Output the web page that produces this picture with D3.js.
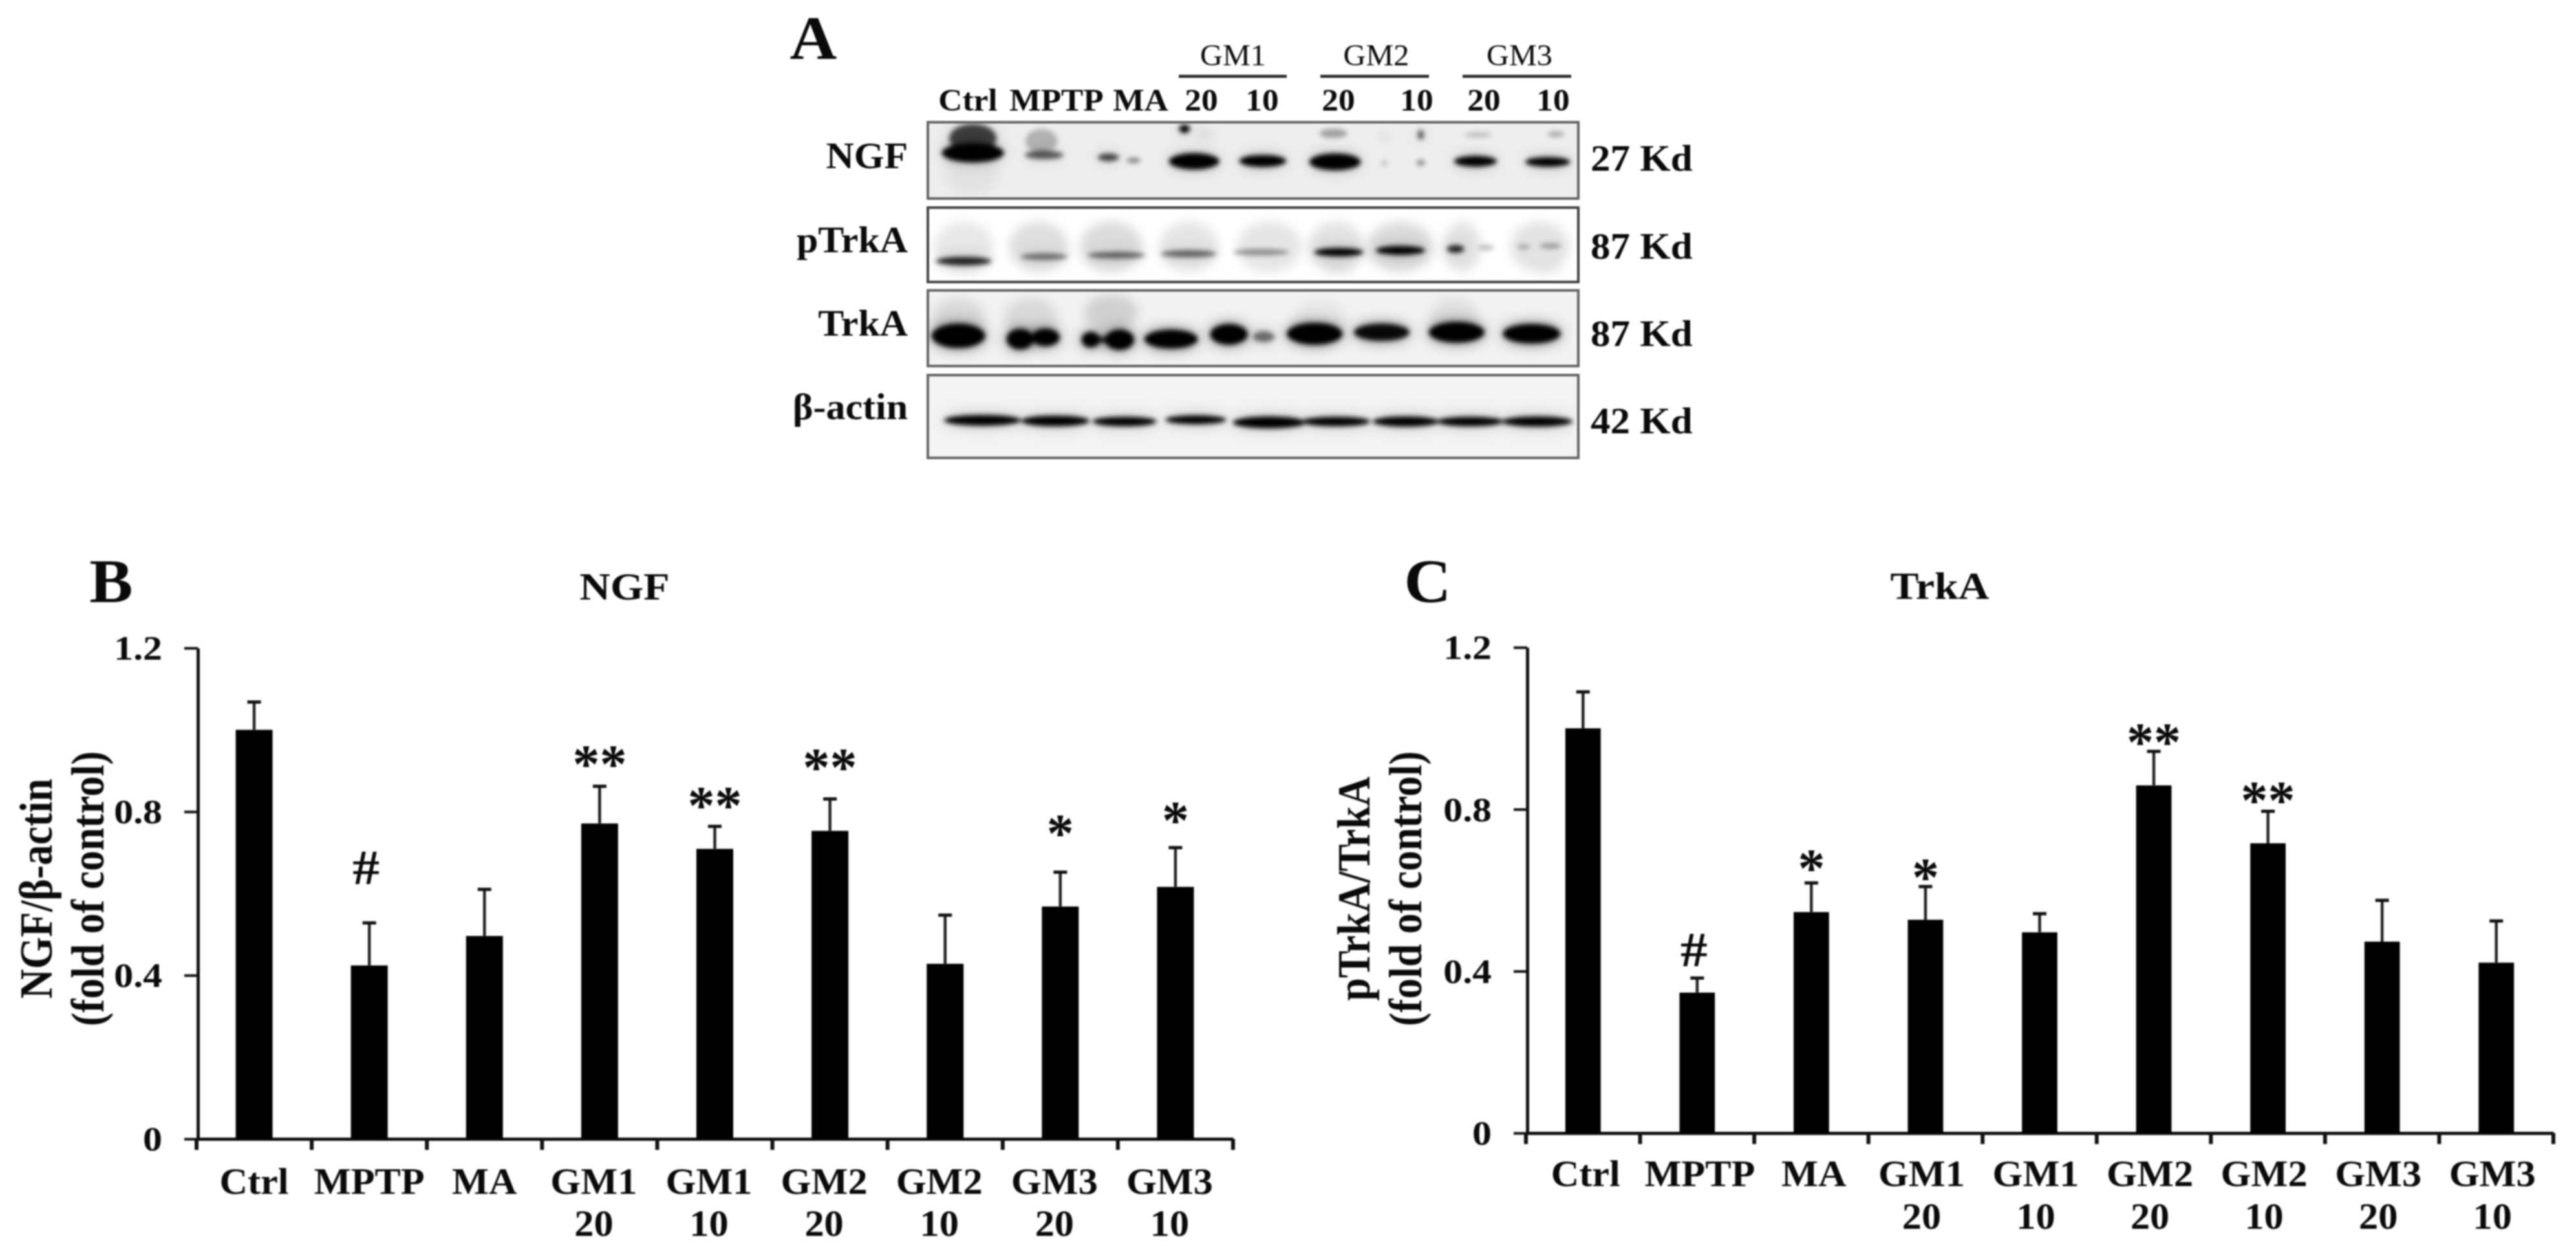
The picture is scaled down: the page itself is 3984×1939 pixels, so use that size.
<!DOCTYPE html>
<html><head><meta charset="utf-8">
<script src="https://cdn.jsdelivr.net/npm/d3@7"></script>
<style>
html,body{margin:0;padding:0;background:#fff;overflow:hidden}
svg{display:block;filter:blur(1.1px)}
text{font-family:"Liberation Serif",serif;font-weight:700;fill:#0a0a0a}
</style></head><body>
<script>
const categories = ["Ctrl","MPTP","MA","GM1|20","GM1|10","GM2|20","GM2|10","GM3|20","GM3|10"];
const yTicks = [0,0.4,0.8,1.2];
const ngfValues = [1.0,0.424,0.496,0.771,0.709,0.753,0.428,0.568,0.616];
const ngfErrTop = [1.068,0.528,0.610,0.862,0.764,0.831,0.547,0.652,0.712];
const ngfMarks = ["","#","","**","**","**","","*","*"];
const ngfMarkAt = [0,0.662,0,0.934,0.833,0.926,0,0.765,0.797];
const trkValues = [1.0,0.347,0.546,0.527,0.496,0.859,0.716,0.473,0.421];
const trkErrTop = [1.09,0.383,0.618,0.609,0.542,0.943,0.795,0.575,0.524];
const trkMarks = ["","#","*","*","","**","**","",""];
const trkMarkAt = [0,0.452,0.673,0.650,0,0.984,0.841,0,0];

// Western blot bands as digitised: [x, y, rx, ry, darkness], in gel units
const gelNGF = [[392,462,44,48,.7],[392,510,58,32,1],[520,470,30,40,.25],[525,517,36,14,.62],[645,525,20,13,.7],[692,535,13,9,.45],
 [787,430,10,14,1],[825,450,14,16,.12],[805,538,47,27,1],[933,537,44,20,1],[1065,445,26,16,.32],[1068,540,48,28,1],
 [1160,455,5,14,.14],[1160,545,6,9,.22],[1228,450,6,17,.6],[1228,543,8,10,.42],[1335,450,26,10,.18],[1330,538,40,18,1],[1480,448,16,10,.28],[1465,540,42,16,1],
 [390,580,50,70,.05]];
const gelPTrk = [[375,868,52,14,.85],[525,853,44,11,.5],[660,848,54,11,.55],[795,843,52,12,.55],[930,838,52,11,.38],[1075,838,46,14,1],
 [1190,832,46,15,1],[1293,827,16,13,.85],[1350,822,15,9,.25],[1420,820,12,9,.25],[1470,817,20,10,.3],[1075,898,35,5,.14],[1470,898,25,4,.14],
 [375,820,55,85,.09],[515,820,55,85,.13],[650,820,58,85,.14],[795,820,55,85,.1],[945,820,60,85,.1],[1070,820,52,85,.11],[1190,820,62,85,.14],[1305,820,35,85,.11],[1450,820,55,85,.11]];
const gelTrk = [[365,1117,50,40,1],[480,1128,25,34,1],[505,1128,22,12,.75],[528,1122,26,29,1],[612,1130,17,26,1],[640,1130,22,12,.75],[666,1130,27,34,1],[762,1128,50,31,1],
 [870,1112,35,34,1],[935,1120,20,18,.5],[1030,1110,52,36,1],[1155,1105,52,28,.95],[1295,1105,52,34,1],[1435,1110,54,32,1],
 [365,1060,50,70,.1],[500,1060,50,70,.1],[650,1040,50,60,.14],[1290,1060,45,70,.08],[1040,1060,50,60,.05]];
const gelActin = [[410,1398,72,18,1],[546,1400,64,18,1],[675,1402,60,16,1],[808,1396,57,15,1],[945,1405,68,20,1],[1070,1402,64,16,1],[1200,1402,62,17,1],[1320,1402,62,16,1],[1445,1402,66,17,1]];
const gelRows = ["NGF","pTrkA","TrkA","β-actin"];
const gelSizes = ["27 Kd","87 Kd","87 Kd","42 Kd"];
const gelLaneLabels = ["Ctrl","MPTP","MA","20","10","20","10","20","10"];
const gelGroups = ["GM1","GM2","GM3"];

const W=3984,H=1939;
const svg=d3.select("body").append("svg").attr("width",W).attr("height",H).attr("viewBox",[0,0,W,H]);
const defs=svg.append("defs");
[["gelCore",3.5],["gelHalo",11],["gelPatch",8]].forEach(([id,s])=>{
  defs.append("filter").attr("id",id).attr("x","-50%").attr("y","-100%").attr("width","200%").attr("height","300%")
    .append("feGaussianBlur").attr("stdDeviation",s);
});
const txt=(g,s,x,y,size,o={})=>g.append("text").text(s).attr("x",x).attr("y",y).attr("font-size",size)
  .attr("text-anchor",o.anchor||"middle").style("font-weight",o.weight||700).attr("data-sx",o.sx||1.04);

/* ---------- Panel A ---------- */
const A=svg.append("g");
txt(A,"A",1258,91,96,{sx:1.05});
const gelX=d3.scaleLinear().domain([308,1522]).range([1435,2441]);
const gels=[{b:gelNGF,d:[408,662],r:[189,307],sb:264,base:260,bg:"#eeeeee"},
 {b:gelPTrk,d:[688,938],r:[321,436],sb:400,base:390,bg:"#ffffff"},
 {b:gelTrk,d:[965,1218],r:[449,566],sb:535,base:519,bg:"#f2f2f2"},
 {b:gelActin,d:[1245,1525],r:[580,708],sb:670,base:648,bg:"#f3f3f3"}];
gels.forEach((g,i)=>{
  const y=d3.scaleLinear().domain(g.d).range(g.r);
  const [x0,x1]=gelX.range();
  defs.append("clipPath").attr("id","gc"+i).append("rect").attr("x",x0).attr("y",g.r[0]).attr("width",x1-x0).attr("height",g.r[1]-g.r[0]);
  A.append("rect").attr("x",x0).attr("y",g.r[0]).attr("width",x1-x0).attr("height",g.r[1]-g.r[0]).attr("fill",g.bg);
  const k=gelX(1)-gelX(0), ky=y(1)-y(0);
  const inner=A.append("g").attr("clip-path",`url(#gc${i})`);
  const draw=(data,filter,op)=>inner.append("g").attr("filter",`url(#${filter})`)
    .selectAll("ellipse").data(data).join("ellipse")
    .attr("cx",d=>gelX(d[0])).attr("cy",d=>y(d[1])).attr("rx",d=>d[2]*k).attr("ry",d=>d[3]*ky)
    .attr("fill","#000").attr("fill-opacity",op);
  draw(g.b.filter(d=>d[4]<=.14),"gelPatch",d=>d[4]);
  draw(g.b.filter(d=>d[4]>=.5),"gelHalo",d=>d[4]*(i===2?.6:.28));
  draw(g.b.filter(d=>d[4]>.14),"gelCore",d=>d[4]);
  A.append("rect").attr("x",x0).attr("y",g.r[0]).attr("width",x1-x0).attr("height",g.r[1]-g.r[0])
   .attr("fill","none").attr("stroke",i===1?"#444":"#666").attr("stroke-width",4);
  txt(A,gelRows[i],1404,g.base,56,{anchor:"end",sx:1.07});
  txt(A,gelSizes[i],2460,g.sb,56,{anchor:"start",sx:1.09});
});
const laneX=[1497,1634,1764,1858,1952,2070,2191,2295,2402];
gelLaneLabels.forEach((s,i)=>txt(A,s,laneX[i],171,48,{sx:1.07}));
const groupX=d3.scalePoint().domain(gelGroups).range([1907,2350]);
const groupBar=[[1823,1990],[2042,2210],[2262,2430]];
gelGroups.forEach((s,i)=>{
  txt(A,s,groupX(s),101,46,{weight:400,sx:1.05});
  A.append("line").attr("x1",groupBar[i][0]).attr("x2",groupBar[i][1]).attr("y1",118).attr("y2",118).attr("stroke","#222").attr("stroke-width",4.5);
});

/* ---------- Bar panels ---------- */
function barPanel(c){
  const g=svg.append("g");
  const x=d3.scaleBand().domain(categories).range(c.x).paddingInner(c.pad).paddingOuter(c.pad/2);
  const y=d3.scaleLinear().domain([0,1.2]).range(c.y);
  const ax=g.append("g").attr("transform",`translate(0,${c.y[0]})`)
    .call(d3.axisBottom(x).tickSize(0).tickFormat(""));
  ax.selectAll(".tick").remove();
  const step=x.step();
  const edges=d3.range(categories.length+1).map(i=>c.x[0]+i*step);
  ax.selectAll("line.e").data(edges).join("line").attr("class","e").attr("x1",d=>d).attr("x2",d=>d).attr("y1",0).attr("y2",17).attr("stroke","#111").attr("stroke-width",6);
  ax.select(".domain").attr("stroke","#111").attr("stroke-width",5);
  const ay=g.append("g").attr("transform",`translate(${c.x[0]+2},0)`)
    .call(d3.axisLeft(y).tickValues(yTicks).tickFormat(d=>d===0?"0":d3.format(".1f")(d)).tickSize(21).tickPadding(34).tickSizeOuter(0));
  ay.select(".domain").attr("stroke","#111").attr("stroke-width",5);
  ay.selectAll(".tick line").attr("stroke","#111").attr("stroke-width",4);
  ay.selectAll(".tick text").attr("font-size",52).attr("data-sx",1.15).attr("dy","0.34em").attr("font-family",null);
  // bars
  g.selectAll("rect.bar").data(c.values).join("rect").attr("class","bar")
    .attr("x",(d,i)=>x(categories[i])).attr("width",x.bandwidth())
    .attr("y",d=>y(d)).attr("height",d=>y(0)-y(d)).attr("fill","#000");
  // error bars
  const cx=i=>x(categories[i])+x.bandwidth()/2;
  g.selectAll("line.err").data(c.err).join("line").attr("class","err")
    .attr("x1",(d,i)=>cx(i)).attr("x2",(d,i)=>cx(i)).attr("y1",(d,i)=>y(c.values[i])).attr("y2",d=>y(d)).attr("stroke","#222").attr("stroke-width",4.5);
  g.selectAll("line.cap").data(c.err).join("line").attr("class","cap")
    .attr("x1",(d,i)=>cx(i)-10.5).attr("x2",(d,i)=>cx(i)+10.5).attr("y1",d=>y(d)).attr("y2",d=>y(d)).attr("stroke","#111").attr("stroke-width",5);
  // significance marks
  c.marks.forEach((m,i)=>{ if(!m) return;
    const hash=m==="#";
    txt(g,m,cx(i)-(hash?5:0),y(c.markAt[i])+(hash?25:40),hash?76:84,{sx:hash?1.1:1});
  });
  // category labels
  categories.forEach((s,i)=>{
    const [a,b]=s.split("|");
    const off=b?c.lo:0;
    txt(g,a,cx(i)+off+c.shift,c.lab[0],58);
    if(b) txt(g,b,cx(i)+off+c.shift,c.lab[1],58);
  });
  txt(g,c.title,c.tx,c.ty,60,{sx:1.1});
  txt(g,c.letter,c.lx,931,96,{sx:1.05});
  c.ylab.forEach((s,i)=>{
    g.append("text").text(s).attr("transform",`translate(${c.yx[i]},${c.yc}) rotate(-90) scale(1,1.12)`)
      .attr("text-anchor","middle").attr("font-size",63.5).attr("data-sx",1);
  });
}
barPanel({x:[304,1907],y:[1761,1002],pad:.68,values:ngfValues,err:ngfErrTop,marks:ngfMarks,markAt:ngfMarkAt,lab:[1846,1911],lo:-9,shift:0,
  title:"NGF",tx:966,ty:927,letter:"B",lx:172,ylab:["NGF/β-actin","(fold of control)"],yx:[80,160],yc:1374});
barPanel({x:[2360,3949],y:[1752,1001],pad:.69,values:trkValues,err:trkErrTop,marks:trkMarks,markAt:trkMarkAt,lab:[1834,1900],lo:-10,shift:4,
  title:"TrkA",tx:3000,ty:926,letter:"C",lx:2208,ylab:["pTrkA/TrkA","(fold of control)"],yx:[2118,2198],yc:1374});

// Reference glyphs are slightly wider than tall
svg.selectAll("text").each(function(){
  const s=+this.getAttribute("data-sx")||1;
  if(s!==1 && this.textContent){
    const L=this.getComputedTextLength();
    this.setAttribute("textLength",L*s);
    this.setAttribute("lengthAdjust","spacingAndGlyphs");
  }
});
</script>
</body></html>
